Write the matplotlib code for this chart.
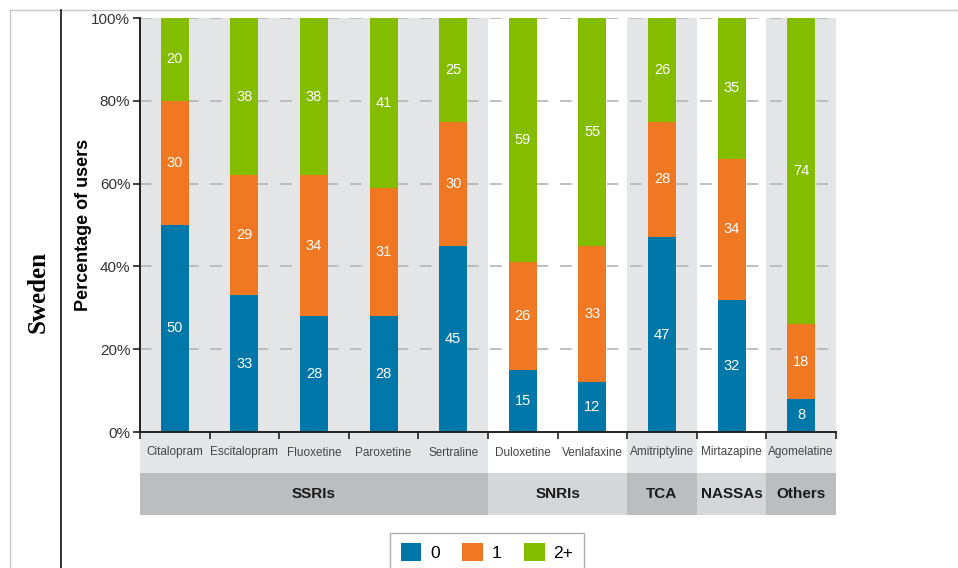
import numpy as np
import matplotlib.pyplot as plt
from matplotlib.patches import Rectangle
from matplotlib.lines import Line2D

# data (percentage of users)
drugs = ['Citalopram', 'Escitalopram', 'Fluoxetine', 'Paroxetine', 'Sertraline',
         'Duloxetine', 'Venlafaxine', 'Amitriptyline', 'Mirtazapine', 'Agomelatine']
users_0 = [50, 33, 28, 28, 45, 15, 12, 47, 32, 8]
users_1 = [30, 29, 34, 31, 30, 26, 33, 28, 34, 18]
users_2 = [20, 38, 38, 41, 25, 59, 55, 26, 35, 74]
groups = ['SSRIs', 'SNRIs', 'TCA', 'NASSAs', 'Others']
group_sizes = [5, 2, 1, 1, 1]
series_names = ['0', '1', '2+']

colors = ['#0077a9', '#f07822', '#84bc00']

plt.rcParams['font.family'] = ['Liberation Sans', 'DejaVu Sans']

W, H = 958, 568
fig = plt.figure(figsize=(W / 100, H / 100), dpi=100)
ax = fig.add_axes([140 / W, 1 - 432 / H, (836 - 140) / W, (432 - 18) / H])
ax.set_xlim(-0.5, len(drugs) - 0.5)
ax.set_ylim(0, 100)

# px per data unit on y
ppu = 414 / 100
tick_band = -(473 - 432) / ppu
group_band = -(515 - 432) / ppu

# group backgrounds
start = -0.5
for i, (g, n) in enumerate(zip(groups, group_sizes)):
    shaded = i % 2 == 0
    if shaded:
        ax.add_patch(Rectangle((start, tick_band), n, 100 - tick_band, facecolor='#e4e5e7',
                               edgecolor='none', zorder=0, clip_on=False))
    ax.add_patch(Rectangle((start, group_band), n, tick_band - group_band,
                           facecolor='#bcbdbf' if shaded else '#d5d6d8',
                           edgecolor='none', zorder=0, clip_on=False))
    ax.text(start + n / 2, (tick_band + group_band) / 2, g, ha='center', va='center',
            fontsize=11, fontweight='bold', color='#1a1a1a', clip_on=False)
    start += n

# gridlines
for yv in [20, 40, 60, 80, 100]:
    ax.axhline(yv, color='#b4b4b4', lw=1.2, ls=(0, (7, 7)), zorder=1)

x = np.arange(len(drugs))
bottom = np.zeros(len(drugs))
for vals, c in zip([users_0, users_1, users_2], colors):
    vals = np.array(vals, dtype=float)
    top = np.minimum(bottom + vals, 100)
    ax.bar(x, top - bottom, bottom=bottom, width=0.4, color=c, zorder=2)
    for xi, b, t, v in zip(x, bottom, top, vals):
        ax.text(xi, (b + t) / 2, f'{int(v)}', ha='center', va='center',
                color='white', fontsize=10.5, zorder=3)
    bottom = top

# category labels
for xi, name in zip(x, drugs):
    ax.text(xi, tick_band / 2, name, ha='center', va='center', fontsize=8.5,
            color='#444444', clip_on=False,
            family=['Liberation Sans Narrow', 'Liberation Sans', 'DejaVu Sans'])

ax.set_xticks(np.arange(-0.5, len(drugs), 1))
ax.set_xticklabels([])
ax.tick_params(axis='x', direction='out', length=5, width=1.2, color='#222222')
ax.set_yticks([0, 20, 40, 60, 80, 100])
ax.set_yticklabels(['0%', '20%', '40%', '60%', '80%', '100%'], fontsize=11, color='#333333')
ax.tick_params(axis='y', direction='out', length=5, width=1.2, color='#222222', pad=2)
for s in ['top', 'right']:
    ax.spines[s].set_visible(False)
for s in ['left', 'bottom']:
    ax.spines[s].set_linewidth(1.4)
    ax.spines[s].set_color('#222222')
ax.set_facecolor('white')
ax.set_ylabel('Percentage of users', fontsize=13, fontweight='bold', va='center')
ax.yaxis.set_label_coords((83 - 140) / 696, 0.5)

# table frame lines and row label
fig.add_artist(Line2D([10 / W, 1], [1 - 10 / H, 1 - 10 / H], color='#c8c8c8', lw=1))
fig.add_artist(Line2D([10 / W, 10 / W], [0, 1 - 10 / H], color='#c8c8c8', lw=1))
fig.add_artist(Line2D([61 / W, 61 / W], [0, 1 - 10 / H], color='#111111', lw=1.2))
fig.text(38 / W, 1 - 292 / H, 'Sweden', rotation=90, ha='center', va='center',
         fontsize=18, fontweight='bold', family='Liberation Serif')

# legend
handles = [Rectangle((0, 0), 1, 1, facecolor=c) for c in colors]
leg = fig.legend(handles, series_names, loc='upper center', bbox_to_anchor=(487 / W, 1 - 533 / H),
                 ncol=3, frameon=True, fontsize=12.5, handlelength=1.2, handleheight=1.2,
                 columnspacing=1.3, handletextpad=0.5, borderpad=0.6, fancybox=False,
                 borderaxespad=0)
leg.get_frame().set_edgecolor('#999999')
leg.get_frame().set_linewidth(1)

fig.savefig('out.png', dpi=100)
